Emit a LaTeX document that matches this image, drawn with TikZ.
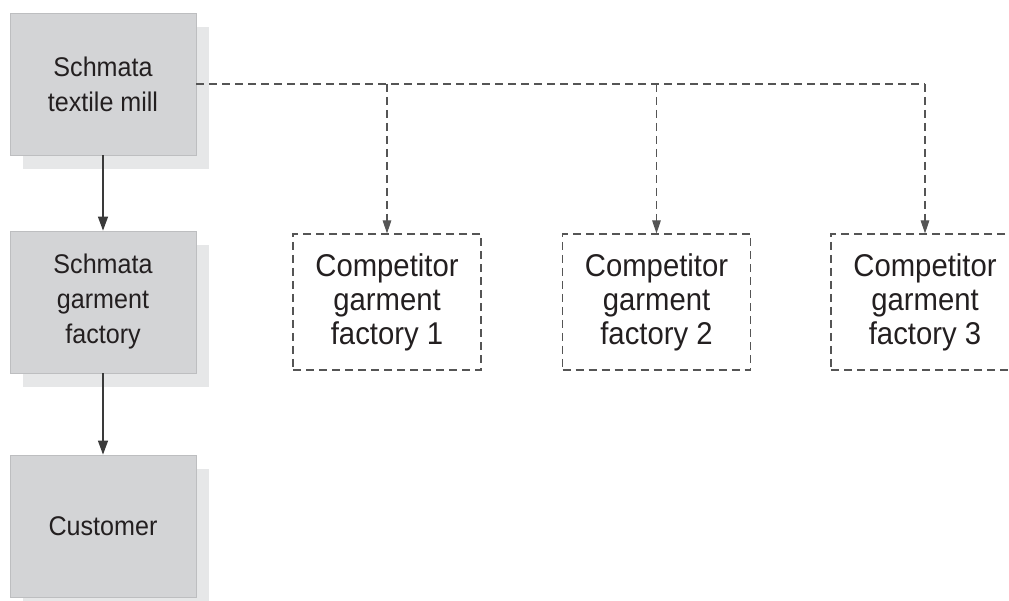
\documentclass[tikz,border=0pt]{standalone}
\usepackage{fontspec}
\setmainfont{Liberation Sans}
\newfontfamily\labelfont[FakeStretch=0.93]{Liberation Sans}
\usetikzlibrary{arrows.meta,shadows}

\definecolor{boxfill}{HTML}{D3D4D6}
\definecolor{boxline}{HTML}{BDBEC0}
\definecolor{shadowfill}{HTML}{E6E7E8}
\definecolor{inkdark}{HTML}{231F20}
\definecolor{linegray}{HTML}{3A3A3A}
\definecolor{dashgray}{HTML}{555555}

\tikzset{
  firmbox/.style={draw=boxline, line width=0.8pt, fill=boxfill,
    minimum width=186pt, minimum height=142pt, inner sep=0pt,
    align=center, text=inkdark,
    font=\labelfont\fontsize{27}{35}\selectfont,
    general shadow={fill=shadowfill, draw=none, shadow xshift=13pt, shadow yshift=-14pt}},
  rivalbox/.style={draw=dashgray, line width=1.1pt, dash pattern=on 8pt off 5pt,
    minimum width=188pt, minimum height=136pt, inner sep=0pt,
    align=center, text=inkdark,
    font=\labelfont\fontsize{31.5}{34}\selectfont},
  flow/.style={draw=linegray, line width=1.3pt,
    -{Triangle[length=14pt,width=10pt]}},
  rivalflow/.style={draw=dashgray, line width=1.1pt, dash pattern=on 8pt off 5pt},
  rivalarrow/.style={rivalflow, -{Triangle[length=13pt,width=8.5pt]}}
}

\begin{document}
\begin{tikzpicture}[x=1pt, y=-1pt]
  \useasboundingbox (0,0) rectangle (1009,601);
  \clip (0,0) rectangle (1009,601);

  % supply chain of the firm
  \node[firmbox] (mill)     at (103,84)  {Schmata\\textile mill};
  \node[firmbox] (factory)  at (103,302) {Schmata\\garment\\factory};
  \node[firmbox] (customer) at (103,526) {Customer};

  % competing garment makers
  \node[rivalbox] (rival1) at (387,302)   {Competitor\\garment\\factory 1};
  \node[rivalbox] (rival2) at (656.5,302) {Competitor\\garment\\factory 2};
  \node[rivalbox] (rival3) at (925,302)   {Competitor\\garment\\factory 3};

  % own flow
  \draw[flow] (mill) -- (factory);
  \draw[flow] (factory) -- (customer);

  % sales of cloth to competitors
  \coordinate (bend) at (mill.east -| rival3.north);
  \draw[rivalflow] (mill.east) -- (bend);
  \draw[rivalarrow] (bend) -- (rival3.north);
  \draw[rivalarrow] (mill.east -| rival1.north) -- (rival1.north);
  \draw[rivalarrow] (mill.east -| rival2.north) -- (rival2.north);
\end{tikzpicture}
\end{document}
